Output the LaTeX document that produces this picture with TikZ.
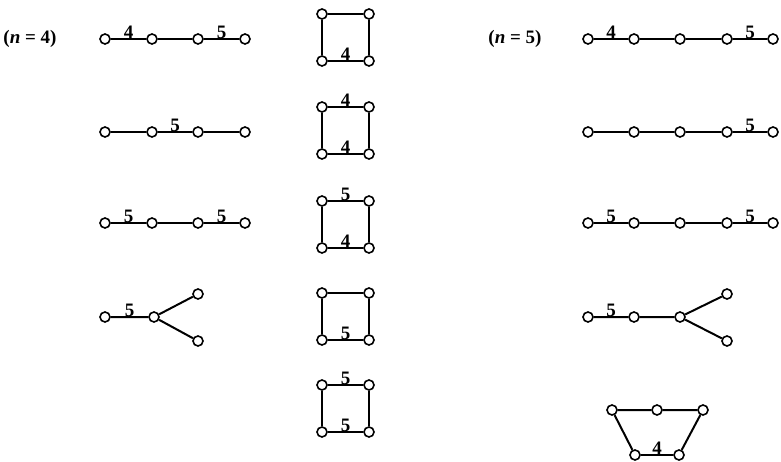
\documentclass[tikz,border=0pt]{standalone}
\usepackage{fontspec}
\setmainfont{Liberation Serif}
\begin{document}
\begin{tikzpicture}[x=1pt,y=-1pt,
  v/.style={circle,draw,line width=1.6pt,minimum size=10pt,inner sep=0pt,fill=white},
  e/.style={line width=2pt},
  lab/.style={font=\fontsize{19}{19}\selectfont\bfseries,inner sep=0pt,above=-0.5pt},
  ttl/.style={font=\fontsize{19}{19}\selectfont\bfseries,inner sep=0pt}]
\useasboundingbox (0,0) rectangle (781,462);
% titles
\node[ttl] (t4) at (30,39) {(\textit{n} = 4)};
\node[ttl] (t5) at (515,39) {(\textit{n} = 5)};
% left column (n=4)
\foreach \i/\x in {1/105,2/152,3/198,4/245}{
  \node[v] (a\i) at (\x,39) {};
  \node[v] (b\i) at (\x,132) {};
  \node[v] (c\i) at (\x,223) {};
}
\draw[e] (a1) -- node[lab]{4} (a2) -- (a3) -- node[lab]{5} (a4);
\draw[e] (b1) -- (b2) -- node[lab]{5} (b3) -- (b4);
\draw[e] (c1) -- node[lab]{5} (c2) -- (c3) -- node[lab]{5} (c4);
\node[v] (d1) at (105,317) {};
\node[v] (d2) at (154,317) {};
\node[v] (d3) at (198,294) {};
\node[v] (d4) at (198,341) {};
\draw[e] (d1) -- node[lab]{5} (d2) -- (d3);
\draw[e] (d2) -- (d4);
% middle column squares
\foreach \k/\y in {1/14,2/107,3/201,4/293,5/385}{
  \node[v] (s\k a) at (322,\y) {};
  \node[v] (s\k b) at (369,\y) {};
  \node[v] (s\k c) at (322,\y+47) {};
  \node[v] (s\k d) at (369,\y+47) {};
  \draw[e] (s\k a) -- (s\k c);
  \draw[e] (s\k b) -- (s\k d);
}
\draw[e] (s1a) -- (s1b);
\draw[e] (s1c) -- node[lab]{4} (s1d);
\draw[e] (s2a) -- node[lab]{4} (s2b);
\draw[e] (s2c) -- node[lab]{4} (s2d);
\draw[e] (s3a) -- node[lab]{5} (s3b);
\draw[e] (s3c) -- node[lab]{4} (s3d);
\draw[e] (s4a) -- (s4b);
\draw[e] (s4c) -- node[lab]{5} (s4d);
\draw[e] (s5a) -- node[lab]{5} (s5b);
\draw[e] (s5c) -- node[lab]{5} (s5d);
% right column (n=5)
\foreach \i/\x in {1/588,2/634,3/680,4/727,5/773}{
  \node[v] (p\i) at (\x,39) {};
  \node[v] (q\i) at (\x,132) {};
  \node[v] (r\i) at (\x,223) {};
}
\draw[e] (p1) -- node[lab]{4} (p2) -- (p3) -- (p4) -- node[lab]{5} (p5);
\draw[e] (q1) -- (q2) -- (q3) -- (q4) -- node[lab]{5} (q5);
\draw[e] (r1) -- node[lab]{5} (r2) -- (r3) -- (r4) -- node[lab]{5} (r5);
\node[v] (u1) at (588,317) {};
\node[v] (u2) at (634,317) {};
\node[v] (u3) at (680,317) {};
\node[v] (u4) at (727,294) {};
\node[v] (u5) at (727,341) {};
\draw[e] (u1) -- node[lab]{5} (u2) -- (u3) -- (u4);
\draw[e] (u3) -- (u5);
\node[v] (w1) at (612,410) {};
\node[v] (w2) at (657,410) {};
\node[v] (w3) at (703,410) {};
\node[v] (w4) at (679,455) {};
\node[v] (w5) at (635,455) {};
\draw[e] (w1) -- (w2) -- (w3) -- (w4);
\draw[e] (w5) -- node[lab]{4} (w4);
\draw[e] (w5) -- (w1);
\end{tikzpicture}
\end{document}
